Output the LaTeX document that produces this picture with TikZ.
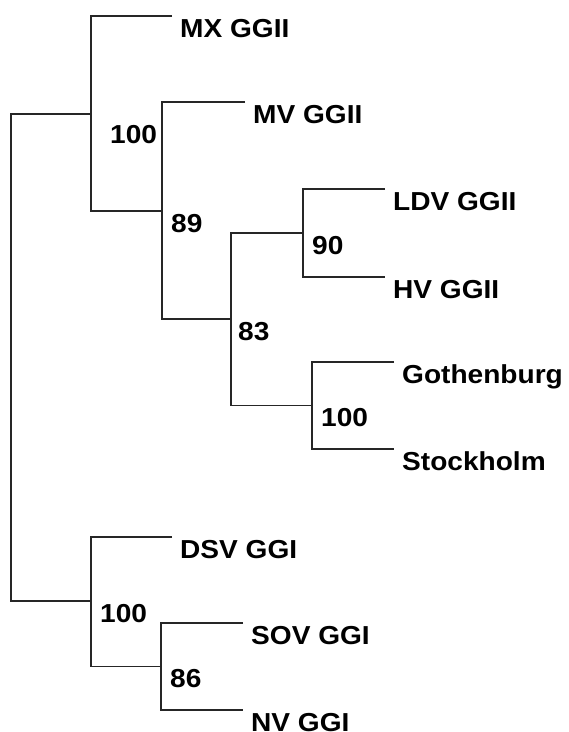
\documentclass[tikz,border=0pt]{standalone}
\usepackage{fontspec}
\newfontfamily\treefont[FakeStretch=1.08]{Liberation Sans}
\usetikzlibrary{positioning}

\begin{document}
\begin{tikzpicture}[x=1pt, y=-1pt,
    branch/.style={line width=1.4pt, black!85},
    leaf/.style={anchor=base west, inner sep=0pt, xshift=8pt, yshift=-21pt, font=\treefont\bfseries\fontsize{26}{26}\selectfont},
    support/.style={anchor=base west, inner sep=0pt, xshift=9pt, yshift=-21pt, font=\treefont\bfseries\fontsize{26}{26}\selectfont}]
    \useasboundingbox (0,0) rectangle (569,732);
    % Nodes
    \coordinate (root) at (11,357);
    \coordinate (ggii) at (91,114);
    \coordinate (n89) at (162,211);
    \coordinate (n83) at (231,319);
    \coordinate (n90) at (303,233);
    \coordinate (nswe) at (312,405.5);
    \coordinate (ggi) at (91,601);
    \coordinate (n86) at (161,666.5);

    \coordinate (mx) at (172,16);
    \coordinate (mv) at (245,102);
    \coordinate (ldv) at (385,189);
    \coordinate (hv) at (385,277);
    \coordinate (gbg) at (394,362);
    \coordinate (sthlm) at (394,449);
    \coordinate (dsv) at (172,537);
    \coordinate (sov) at (243,623);
    \coordinate (nv) at (243,710);

    \node (mxlab) [leaf] at (mx) {MX GGII};
    \node (mvlab) [leaf] at (mv) {MV GGII};
    \node (ldvlab) [leaf] at (ldv) {LDV GGII};
    \node (hvlab) [leaf] at (hv) {HV GGII};
    \node (gbglab) [leaf] at (gbg) {Gothenburg};
    \node (sthlmlab) [leaf] at (sthlm) {Stockholm};
    \node (dsvlab) [leaf] at (dsv) {DSV GGI};
    \node (sovlab) [leaf] at (sov) {SOV GGI};
    \node (nvlab) [leaf] at (nv) {NV GGI};

    \node (bsggii) [support, xshift=10pt, yshift=-8pt] at (ggii) {100};
    \node (bs89) [support] at (n89) {89};
    \node (bs83) [support, xshift=-2pt] at (n83) {83};
    \node (bs90) [support] at (n90) {90};
    \node (bsswe) [support] at (nswe) {100};
    \node (bsggi) [support] at (ggi) {100};
    \node (bs86) [support] at (n86) {86};

    % Branches
    \draw[branch] (ggii) -| (root) |- (ggi);
    \draw[branch] (mx) -| (ggii) |- (n89);
    \draw[branch] (mv) -| (n89) |- (n83);
    \draw[branch] (n90) -| (n83) |- (nswe);
    \draw[branch] (ldv) -| (n90) |- (hv);
    \draw[branch] (gbg) -| (nswe) |- (sthlm);
    \draw[branch] (dsv) -| (ggi) |- (n86);
    \draw[branch] (sov) -| (n86) |- (nv);
\end{tikzpicture}
\end{document}
